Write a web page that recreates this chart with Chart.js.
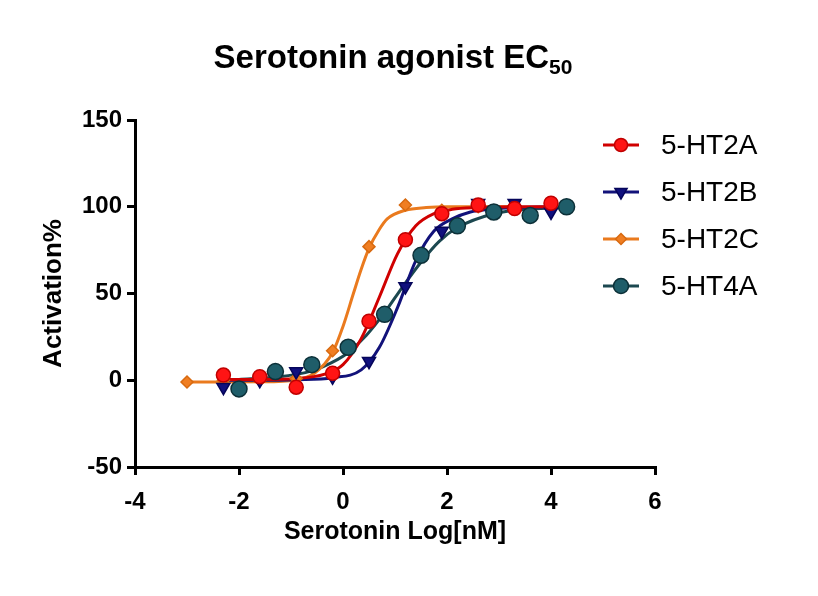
<!DOCTYPE html>
<html>
<head>
<meta charset="utf-8">
<script src="https://cdn.jsdelivr.net/npm/chart.js@4.4.1/dist/chart.umd.min.js"></script>
<style>
html, body { margin: 0; padding: 0; background: #fff; }
#wrap { position: relative; width: 818px; height: 596px; }
#titulo {
    position: absolute; left: 0; top: 38px; width: 786px;
    text-align: center; line-height: 33px; color: #000;
    font: bold 33px "Liberation Sans", Arial, sans-serif;
}
#titulo span { font-size: 21px; position: relative; top: 6px; }
</style>
</head>
<body>
<div id="wrap">
    <canvas id="miGrafica" width="818" height="596"></canvas>
    <div id="titulo">Serotonin agonist EC<span>50</span></div>
</div>
<script>
// puntos medidos (Log[nM], Activation%)
const nombres = ["5-HT2A", "5-HT2B", "5-HT2C", "5-HT4A"]

const xRojo = [-2.3, -1.6, -0.9, -0.2, 0.5, 1.2, 1.9, 2.6, 3.3, 4.0]
const yRojo = [3, 2, -4, 4, 34, 81, 96, 101, 99, 102]
const xAzul = [-2.3, -1.6, -0.9, -0.2, 0.5, 1.2, 1.9, 2.6, 3.3, 4.0]
const yAzul = [-4, 0, 5, 2, 11, 54, 86, 102, 102, 97]
const xNaranja = [-3.0, -2.3, -1.6, -0.9, -0.2, 0.5, 1.2, 1.9, 2.6, 3.3]
const yNaranja = [-1, 0, 0, 1, 17, 77, 101, 98, 100, 100]
const xTeal = [-2.0, -1.3, -0.6, 0.1, 0.8, 1.5, 2.2, 2.9, 3.6, 4.3]
const yTeal = [-5, 5, 9, 19, 38, 72, 89, 97, 95, 100]

// curvas ajustadas
const fxRojo = [-2.3, -1.6, -0.9, -0.35, 0, 0.35, 0.7, 1.05, 1.4, 1.75, 2.1, 2.6, 3.3, 4.0]
const fyRojo = [0.5, 0.5, 1, 3.5, 9, 24, 48, 73, 89, 96, 98.5, 99.5, 100, 100]
const fxAzul = [-2.3, -1.6, -0.9, -0.2, 0.35, 0.7, 1.05, 1.4, 1.75, 2.1, 2.45, 2.8, 3.3, 4.0]
const fyAzul = [0, 0, 0.3, 1.5, 6, 19, 42, 69, 86, 93, 97, 98.5, 99.5, 100]
const fxNaranja = [-3.0, -2.3, -1.6, -0.9, -0.55, -0.2, 0, 0.2, 0.35, 0.5, 0.7, 0.85, 1.2, 1.6, 2.0, 2.6, 3.3]
const fyNaranja = [-1, -1, -0.9, 0.2, 4, 16, 31, 50, 64, 76, 87, 93, 98, 99.5, 100, 100, 100]
const fxTeal = [-2.0, -1.3, -0.6, -0.1, 0.1, 0.45, 0.8, 1.15, 1.5, 1.85, 2.2, 2.9, 3.6, 4.3]
const fyTeal = [0.5, 1.7, 5.4, 12, 16, 26, 39, 54, 68, 80, 88, 96, 98.8, 99.5]

const ticksX = [-4, -2, 0, 2, 4, 6]
const ticksY = [-50, 0, 50, 100, 150]

const fuente = '"Liberation Sans", Arial, sans-serif'

const series = [
    { nombre: nombres[0], x: xRojo, y: yRojo, fx: fxRojo, fy: fyRojo, relleno: "#ff1414", borde: "#c00000", linea: "#d00000", estilo: "circle", radio: 7, rotacion: 0 },
    { nombre: nombres[1], x: xAzul, y: yAzul, fx: fxAzul, fy: fyAzul, relleno: "#10107e", borde: "#05055a", linea: "#12127a", estilo: "triangle", radio: 7.5, rotacion: 180 },
    { nombre: nombres[2], x: xNaranja, y: yNaranja, fx: fxNaranja, fy: fyNaranja, relleno: "#f07e22", borde: "#d86a10", linea: "#ea7a1e", estilo: "rectRot", radio: 6, rotacion: 0 },
    { nombre: nombres[3], x: xTeal, y: yTeal, fx: fxTeal, fy: fyTeal, relleno: "#1f5d69", borde: "#0c3038", linea: "#1c4850", estilo: "circle", radio: 8, rotacion: 0 }
]

// orden de dibujo de marcadores: rojo arriba, luego teal, azul, naranja
const ordenMarcador = [0, 2, 3, 1]

const datasets = []
series.forEach((s, i) => {
    datasets.push({
        label: s.nombre,
        data: s.x.map((v, k) => ({ x: v, y: s.y[k] })),
        showLine: false,
        pointStyle: s.estilo,
        pointRadius: s.radio,
        pointRotation: s.rotacion,
        pointBackgroundColor: s.relleno,
        pointBorderColor: s.borde,
        pointBorderWidth: 1.5,
        order: ordenMarcador[i]
    })
    datasets.push({
        label: s.nombre + " fit",
        data: s.fx.map((v, k) => ({ x: v, y: s.fy[k] })),
        borderColor: s.linea,
        borderWidth: 3,
        pointRadius: 0,
        fill: false,
        cubicInterpolationMode: "monotone",
        order: 10 + i
    })
})

// leyenda con linea + marcador como en el original
const leyendaPlugin = {
    id: "leyenda",
    afterDraw(chart) {
        const ctx = chart.ctx
        const area = chart.chartArea
        const x0 = area.right - 52
        const x1 = area.right - 16
        const xm = (x0 + x1) / 2
        ctx.save()
        series.forEach((s, i) => {
            const y = area.top + 25 + i * 47
            ctx.strokeStyle = s.linea
            ctx.lineWidth = 3
            ctx.beginPath()
            ctx.moveTo(x0, y)
            ctx.lineTo(x1, y)
            ctx.stroke()
            ctx.fillStyle = s.relleno
            ctx.strokeStyle = s.borde
            ctx.lineWidth = 1.5
            Chart.helpers.drawPoint(ctx, { pointStyle: s.estilo, radius: s.radio - 0.5, rotation: s.rotacion, borderWidth: 1.5 }, xm, y)
            ctx.fillStyle = "#000"
            ctx.font = "28px " + fuente
            ctx.textBaseline = "middle"
            ctx.textAlign = "left"
            ctx.fillText(s.nombre, x1 + 22, y + 1)
        })
        ctx.restore()
    }
}

const ejeComun = {
    grid: { display: true, drawOnChartArea: false, drawTicks: true, tickLength: 8, color: "#000", lineWidth: 3 },
    border: { display: true, color: "#000", width: 3 }
}

const ctx = document.getElementById("miGrafica").getContext("2d")
new Chart(ctx, {
    type: "line",
    data: { datasets: datasets },
    plugins: [leyendaPlugin],
    options: {
        responsive: false,
        animation: false,
        layout: { padding: { left: 34, right: 163, top: 120, bottom: 45 } },
        plugins: {
            legend: { display: false },
            tooltip: { enabled: false }
        },
        scales: {
            x: {
                type: "linear",
                min: ticksX[0],
                max: ticksX[ticksX.length - 1],
                afterBuildTicks: (s) => { s.ticks = ticksX.map(v => ({ value: v })) },
                afterFit: (s) => { s.height = 84 },
                ticks: { color: "#000", padding: 13, font: { family: fuente, size: 24, weight: "bold" } },
                title: { display: true, text: "Serotonin Log[nM]", color: "#000", padding: 4, font: { family: fuente, size: 25, weight: "bold" } },
                ...ejeComun
            },
            y: {
                type: "linear",
                min: ticksY[0],
                max: ticksY[ticksY.length - 1],
                afterBuildTicks: (s) => { s.ticks = ticksY.map(v => ({ value: v })) },
                afterFit: (s) => { s.width = 101 },
                ticks: { color: "#000", padding: 5, font: { family: fuente, size: 24, weight: "bold" } },
                title: { display: true, text: "Activation%", color: "#000", padding: 4, font: { family: fuente, size: 26, weight: "bold" } },
                ...ejeComun
            }
        }
    }
})
</script>
</body>
</html>
